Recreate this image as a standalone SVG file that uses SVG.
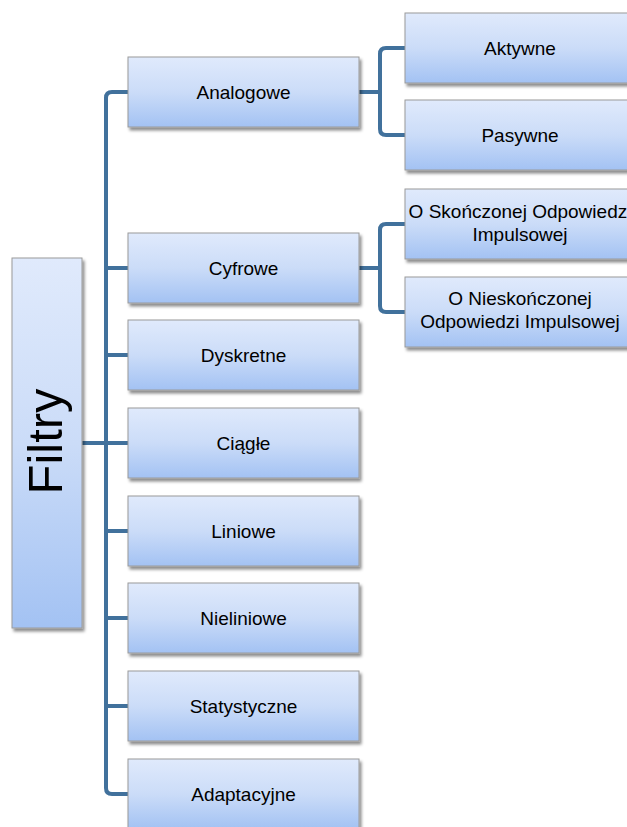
<svg xmlns="http://www.w3.org/2000/svg" width="627" height="827" viewBox="0 0 627 827">
  <defs>
    <linearGradient id="boxFill" x1="0" y1="0" x2="0" y2="1">
      <stop offset="0" stop-color="#e0eafc"/>
      <stop offset="0.5" stop-color="#cbdcf8"/>
      <stop offset="1" stop-color="#a3c2f3"/>
    </linearGradient>
    <filter id="shadow" x="-10%" y="-10%" width="130%" height="140%">
      <feDropShadow dx="2" dy="3" stdDeviation="1.8" flood-color="#000" flood-opacity="0.45"/>
    </filter>
  </defs>
  <style>
    .box { fill: url(#boxFill); stroke: #9a9a9a; stroke-width: 1; filter: url(#shadow); }
    .lbl { font-family: "Liberation Sans", Arial, sans-serif; font-size: 19px; fill: #000; text-anchor: middle; }
    .title { font-family: "Liberation Sans", Arial, sans-serif; font-size: 48px; fill: #000; text-anchor: middle; }
    .conn { fill: none; stroke: #41719c; stroke-width: 4; stroke-linejoin: round; }
  </style>

  <!-- connectors -->
  <g id="connectors">
    <path class="conn" d="M82,443 H106"/>
    <path class="conn" d="M128,92 H112 Q106,92 106,98 V788 Q106,794 112,794 H128"/>
    <path class="conn" d="M106,268 H128 M106,355 H128 M106,443 H128 M106,531 H128 M106,618 H128 M106,706 H128"/>
    <path class="conn" d="M359,92 H380"/>
    <path class="conn" d="M405,48 H386 Q380,48 380,54 V129 Q380,135 386,135 H405"/>
    <path class="conn" d="M359,268 H380"/>
    <path class="conn" d="M405,224 H386 Q380,224 380,230 V306 Q380,312 386,312 H405"/>
  </g>

  <!-- root -->
  <g id="filtry">
    <rect class="box" x="12" y="258" width="70" height="370"/>
    <text class="title" transform="translate(62,441.5) rotate(-90)" x="0" y="0" textLength="106" lengthAdjust="spacingAndGlyphs">Filtry</text>
  </g>

  <!-- first level -->
  <g id="analogowe">
    <rect class="box" x="128" y="57" width="231" height="70"/>
    <text class="lbl" x="243.5" y="99">Analogowe</text>
  </g>
  <g id="cyfrowe">
    <rect class="box" x="128" y="233" width="231" height="70"/>
    <text class="lbl" x="243.5" y="275">Cyfrowe</text>
  </g>
  <g id="dyskretne">
    <rect class="box" x="128" y="320" width="231" height="70"/>
    <text class="lbl" x="243.5" y="362">Dyskretne</text>
  </g>
  <g id="ciagle">
    <rect class="box" x="128" y="408" width="231" height="70"/>
    <text class="lbl" x="243.5" y="450">Ciągłe</text>
  </g>
  <g id="liniowe">
    <rect class="box" x="128" y="496" width="231" height="70"/>
    <text class="lbl" x="243.5" y="538">Liniowe</text>
  </g>
  <g id="nieliniowe">
    <rect class="box" x="128" y="583" width="231" height="70"/>
    <text class="lbl" x="243.5" y="625">Nieliniowe</text>
  </g>
  <g id="statystyczne">
    <rect class="box" x="128" y="671" width="231" height="70"/>
    <text class="lbl" x="243.5" y="713">Statystyczne</text>
  </g>
  <g id="adaptacyjne">
    <rect class="box" x="128" y="759" width="231" height="70"/>
    <text class="lbl" x="243.5" y="801">Adaptacyjne</text>
  </g>

  <!-- second level -->
  <g id="aktywne">
    <rect class="box" x="405" y="13" width="230" height="70"/>
    <text class="lbl" x="520" y="55">Aktywne</text>
  </g>
  <g id="pasywne">
    <rect class="box" x="405" y="100" width="230" height="70"/>
    <text class="lbl" x="520" y="142">Pasywne</text>
  </g>
  <g id="skonczona">
    <rect class="box" x="405" y="189" width="230" height="70"/>
    <text class="lbl" x="520" y="218">O Skończonej Odpowiedzi</text>
    <text class="lbl" x="520" y="241">Impulsowej</text>
  </g>
  <g id="nieskonczona">
    <rect class="box" x="405" y="277" width="230" height="70"/>
    <text class="lbl" x="520" y="305">O Nieskończonej</text>
    <text class="lbl" x="520" y="328">Odpowiedzi Impulsowej</text>
  </g>
</svg>
